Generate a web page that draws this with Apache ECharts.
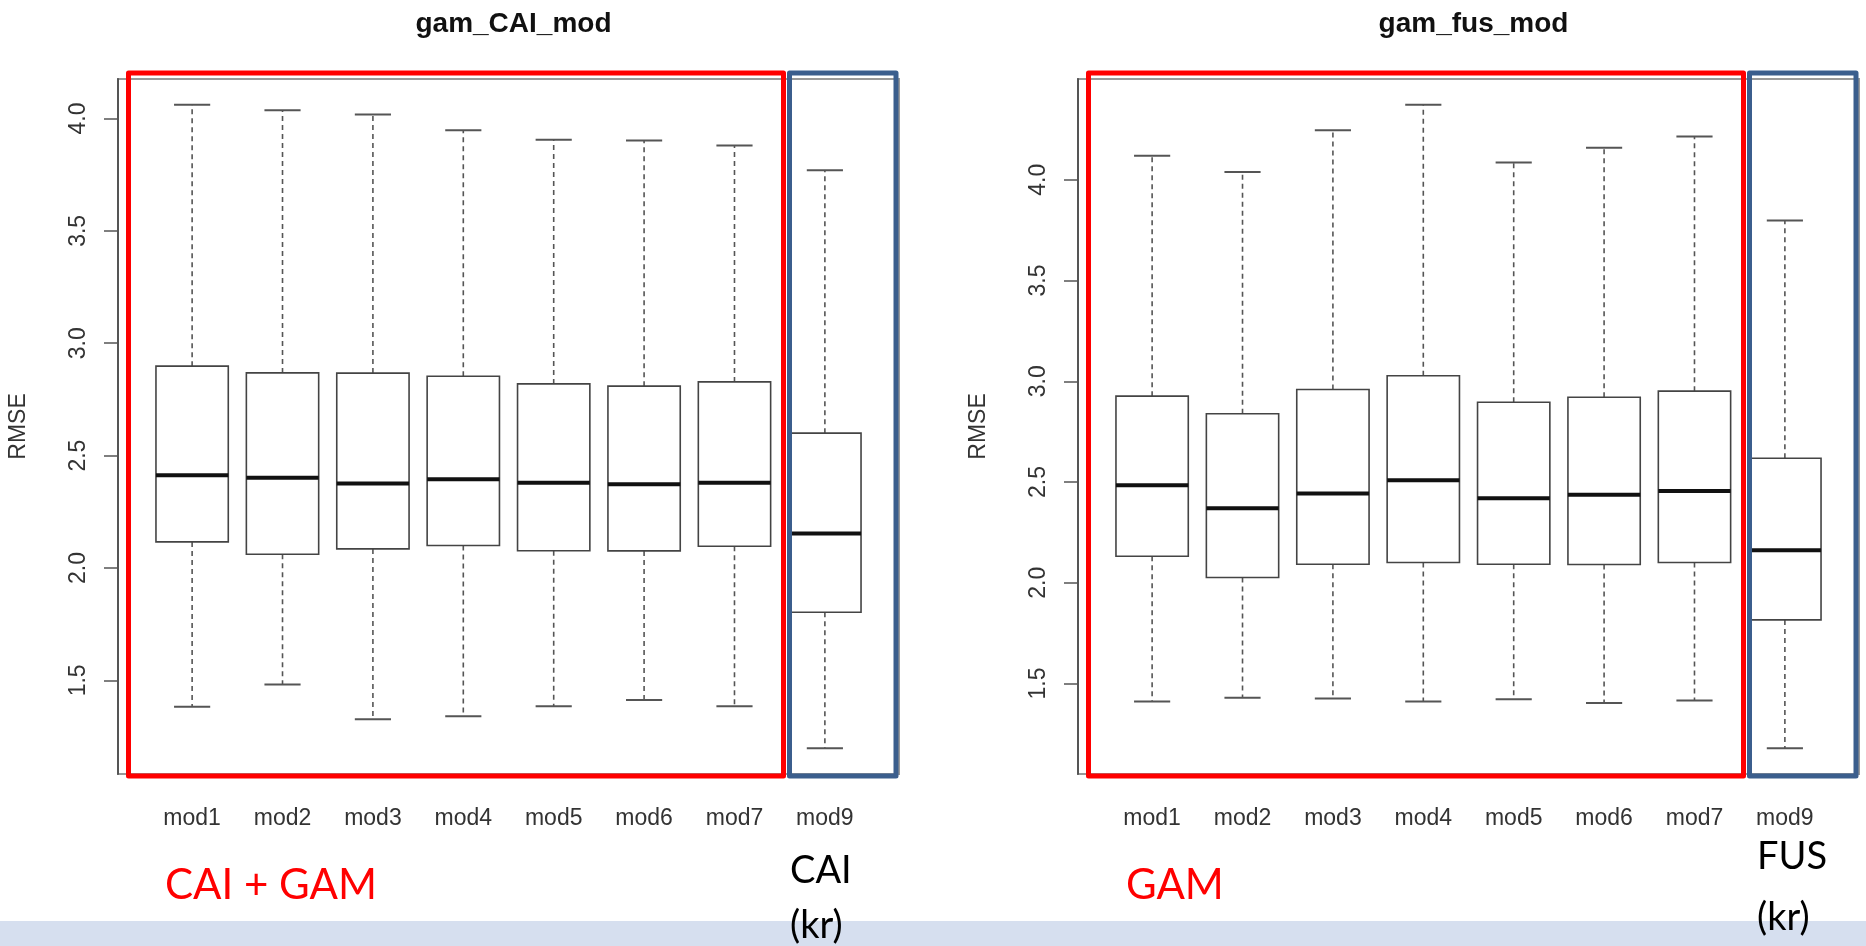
<!DOCTYPE html>
<html>
<head>
<meta charset="utf-8">
<script src="https://cdn.jsdelivr.net/npm/echarts@6/dist/echarts.min.js"></script>
<style>
html,body{margin:0;padding:0;background:#fff;}
#chart{width:1866px;height:946px;}
</style>
</head>
<body>
<div id="chart"></div>
<script>
// ---------- data ----------
const categories = ['mod1','mod2','mod3','mod4','mod5','mod6','mod7','mod9'];
const titles = ['gam_CAI_mod','gam_fus_mod'];
const yAxisName = 'RMSE';
const yTicks = [1.5, 2.0, 2.5, 3.0, 3.5, 4.0];

// gam_CAI_mod : [lower whisker, Q1, median, Q3, upper whisker]
const caiMin    = [1.383, 1.482, 1.327, 1.340, 1.385, 1.413, 1.385, 1.198];
const caiQ1     = [2.116, 2.061, 2.085, 2.100, 2.077, 2.076, 2.097, 1.803];
const caiMedian = [2.413, 2.402, 2.376, 2.395, 2.379, 2.373, 2.379, 2.153];
const caiQ3     = [2.898, 2.868, 2.867, 2.853, 2.819, 2.809, 2.828, 2.600];
const caiMax    = [4.061, 4.036, 4.018, 3.948, 3.905, 3.902, 3.880, 3.769];

// gam_fus_mod
const fusMin    = [1.411, 1.429, 1.426, 1.411, 1.422, 1.404, 1.416, 1.179];
const fusQ1     = [2.132, 2.026, 2.092, 2.101, 2.092, 2.091, 2.101, 1.816];
const fusMedian = [2.484, 2.370, 2.443, 2.509, 2.420, 2.437, 2.455, 2.162];
const fusQ3     = [2.926, 2.839, 2.959, 3.027, 2.896, 2.921, 2.951, 2.618];
const fusMax    = [4.119, 4.038, 4.245, 4.372, 4.086, 4.159, 4.215, 3.798];

const groupLabels = ['CAI + GAM', 'GAM'];
const singleLabels = [['CAI','(kr)'], ['FUS','(kr)']];

// ---------- layout ----------
const W = 1866, H = 946;
const gridTop = 79, gridBottom = 172;
const frameW = 781;
const frameLeft = [118, 1078];
const nCat = categories.length;
const usrSpan = nCat + 0.04 * nCat * 2;         // R: xlim 0.5..n+0.5 extended by 4%
const band = frameW / usrSpan;
const catOffset = (0.5 + 0.04 * nCat) - 0.5;     // extra space beyond half band

function yRange(mins, maxs) {
  const lo = Math.min(...mins), hi = Math.max(...maxs);
  const e = (hi - lo) * 0.04;
  return [lo - e, hi + e];
}
const rangeL = yRange(caiMin, caiMax);
const rangeR = yRange(fusMin, fusMax);

function boxData(mn, q1, md, q3, mx) {
  return categories.map((c, i) => [i, mn[i], q1[i], md[i], q3[i], mx[i]]);
}

function renderBox(params, api) {
  const i = api.value(0);
  const pMin = api.coord([i, api.value(1)]);
  const pQ1  = api.coord([i, api.value(2)]);
  const pMed = api.coord([i, api.value(3)]);
  const pQ3  = api.coord([i, api.value(4)]);
  const pMax = api.coord([i, api.value(5)]);
  const bw = api.size([1, 0])[0] * 0.8;
  const sw = bw * 0.5;
  const x = pMed[0];
  const dash = {stroke: '#555', lineWidth: 1.6, lineDash: [5, 4]};
  const solid = {stroke: '#555', lineWidth: 2};
  return {
    type: 'group',
    children: [
      {type: 'line', shape: {x1: x, y1: pQ3[1], x2: x, y2: pMax[1]}, style: dash},
      {type: 'line', shape: {x1: x, y1: pQ1[1], x2: x, y2: pMin[1]}, style: dash},
      {type: 'line', shape: {x1: x - sw / 2, y1: pMax[1], x2: x + sw / 2, y2: pMax[1]}, style: solid},
      {type: 'line', shape: {x1: x - sw / 2, y1: pMin[1], x2: x + sw / 2, y2: pMin[1]}, style: solid},
      {type: 'rect', shape: {x: x - bw / 2, y: pQ3[1], width: bw, height: pQ1[1] - pQ3[1]},
        style: {fill: '#fff', stroke: '#444', lineWidth: 1.6}},
      {type: 'line', shape: {x1: x - bw / 2, y1: pMed[1], x2: x + bw / 2, y2: pMed[1]},
        style: {stroke: '#111', lineWidth: 4}}
    ]
  };
}

const rFont = "'Liberation Sans', Arial, sans-serif";
const pFont = "Lato, 'Open Sans', sans-serif";

const grids = [], xAxes = [], yAxes = [], series = [], titleList = [];
[rangeL, rangeR].forEach((rng, k) => {
  const fl = frameLeft[k];
  grids.push({left: fl, width: frameW, top: gridTop, bottom: gridBottom, show: true,
    borderColor: '#999', borderWidth: 2, backgroundColor: 'transparent'});
  grids.push({left: fl + catOffset * band, width: nCat * band, top: gridTop, bottom: gridBottom});
  xAxes.push({gridIndex: 2 * k, type: 'value', min: 0, max: 1, show: false});
  xAxes.push({gridIndex: 2 * k + 1, type: 'category', data: categories,
    axisLine: {show: false},
    axisTick: {alignWithLabel: true, length: 14, lineStyle: {color: '#555', width: 1.5}},
    axisLabel: {margin: 33, fontSize: 23, color: '#333', fontFamily: rFont}});
  yAxes.push({gridIndex: 2 * k, type: 'value', min: rng[0], max: rng[1],
    name: yAxisName, nameLocation: 'middle', nameGap: 88, nameRotate: 90,
    nameTextStyle: {fontSize: 23, color: '#333', fontFamily: rFont},
    splitLine: {show: false},
    axisLine: {show: true, lineStyle: {color: '#555', width: 2}},
    axisTick: {show: true, length: 14, customValues: yTicks, lineStyle: {color: '#555', width: 1.5}},
    axisLabel: {rotate: 90, margin: 28, fontSize: 23, color: '#333', fontFamily: rFont,
      customValues: yTicks, formatter: v => v.toFixed(1)}});
  yAxes.push({gridIndex: 2 * k + 1, type: 'value', min: rng[0], max: rng[1], show: false});
  titleList.push({text: titles[k], left: fl + frameW / 2, top: 5, textAlign: 'center',
    textStyle: {fontSize: 28, fontWeight: 'bold', color: '#111', fontFamily: rFont}});
});

series.push({type: 'custom', xAxisIndex: 1, yAxisIndex: 1, renderItem: renderBox,
  encode: {x: 0, y: [1, 2, 3, 4, 5]}, data: boxData(caiMin, caiQ1, caiMedian, caiQ3, caiMax), z: 3});
series.push({type: 'custom', xAxisIndex: 3, yAxisIndex: 3, renderItem: renderBox,
  encode: {x: 0, y: [1, 2, 3, 4, 5]}, data: boxData(fusMin, fusQ1, fusMedian, fusQ3, fusMax), z: 3});

// annotation overlays
function rectEl(x1, y1, x2, y2, color) {
  return {type: 'rect', z: 100, shape: {x: x1, y: y1, width: x2 - x1, height: y2 - y1},
    style: {fill: 'none', stroke: color, lineWidth: 5, lineJoin: 'round'}};
}
function textEl(txt, x, y, size, color) {
  return {type: 'text', z: 101, x: x, y: y,
    style: {text: txt, fill: color, fontSize: size, fontFamily: pFont, verticalAlign: 'middle', align: 'left'}};
}
const graphics = [
  {type: 'rect', z: 50, shape: {x: 0, y: 921, width: W, height: H - 921}, style: {fill: '#D6DFEF'}},
  rectEl(128.5, 73, 783.5, 776, '#FF0000'),
  rectEl(789.5, 73, 896, 776, '#3B5E8D'),
  rectEl(1088.5, 73, 1743.5, 776, '#FF0000'),
  rectEl(1749.5, 73, 1856, 776, '#3B5E8D'),
  textEl(groupLabels[0], 165, 885, 42, '#FF0000'),
  textEl(groupLabels[1], 1126, 885, 42, '#FF0000'),
  textEl(singleLabels[0][0], 790, 871, 38, '#000'),
  textEl(singleLabels[0][1], 790, 926, 38, '#000'),
  textEl(singleLabels[1][0], 1757, 857, 38, '#000'),
  textEl(singleLabels[1][1], 1757, 918, 38, '#000')
];

const chart = echarts.init(document.getElementById('chart'), null, {renderer: 'canvas'});
chart.setOption({
  backgroundColor: '#fff',
  animation: false,
  title: titleList,
  grid: grids,
  xAxis: xAxes,
  yAxis: yAxes,
  series: series,
  graphic: graphics
});
</script>
</body>
</html>
